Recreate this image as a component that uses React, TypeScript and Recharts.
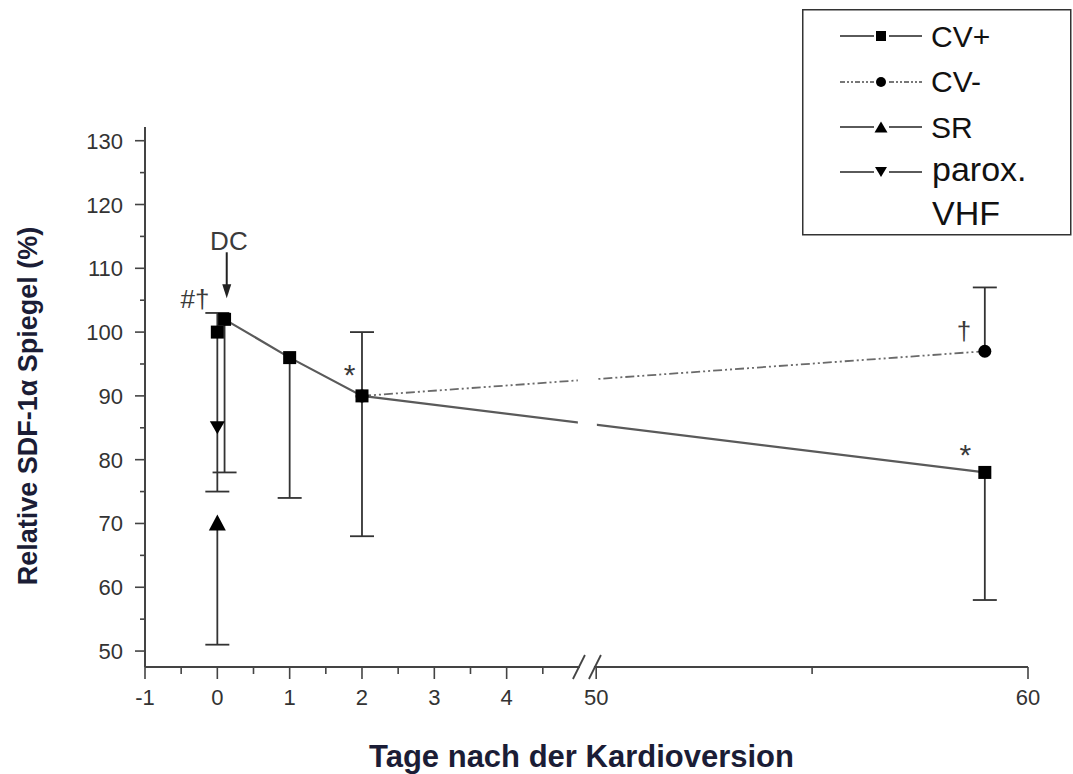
import React from "react";
import {
  ComposedChart,
  Line,
  Scatter,
  XAxis,
  YAxis,
  Label,
  Legend,
  ReferenceLine,
  ReferenceDot,
} from "recharts";

// Tage nach der Kardioversion (x) und relativer SDF-1a Spiegel in % (y)
const cvPlusDays = [0.1, 1, 2, 59];
const cvPlusValues = [102, 96, 90, 78];
const cvMinusDays = [2, 59];
const cvMinusValues = [90, 97];
const baseDays = [0];
const baseValues = [100];
const srDays = [0];
const srValues = [70];
const paroxDays = [0];
const paroxValues = [85];

// Fehlerbalken: Tag, Mittelwert, unteres / oberes Ende (null = nicht gezeichnet)
const errDays = [0, 0.1, 1, 2, 59, 59, 0];
const errMeans = [100, 102, 96, 90, 78, 97, 70];
const errLow: (number | null)[] = [75, 78, 74, 68, 58, null, 51];
const errHigh: (number | null)[] = [103, null, null, 100, null, 107, null];

// Achsen
const xMajorDays = [-1, 0, 1, 2, 3, 4, 50, 60];
const xMinorDays = [-0.5, 0.5, 1.5, 2.5, 3.5, 4.5, 55];
const yMajor = [50, 60, 70, 80, 90, 100, 110, 120, 130];
const yMinor = [55, 65, 75, 85, 95, 105, 115, 125];

// Beschriftungen im Diagramm
const noteDays = [0.16, -0.31, 1.83, 58.52, 58.55];
const noteValues = [114.4, 105.3, 94.4, 99.8, 81.8];
const noteTexts = ["DC", "#\u2020", "*", "\u2020", "*"];

const legendNames = ["CV+", "CV-", "SR", "parox. VHF"];

// unterbrochene x-Achse: 0..5 Tage linear, danach 50..60 gestaucht
const SEG_END = 5;
const RIGHT_START = 50;
const RIGHT_OFFSET = 5.238;
const RIGHT_SCALE = 0.597;
const toAxis = (d: number) =>
  d <= SEG_END ? d : RIGHT_OFFSET + (d - RIGHT_START) * RIGHT_SCALE;
const BREAK_AT = 5.11;

const pts = (days: number[], vals: number[]) =>
  days.map((d, i) => ({ x: toAxis(d), y: vals[i] }));

const FONT = "'Liberation Sans', Arial, Helvetica, sans-serif";
const LINE_GRAY = "#5a5a5a";
const BAR = "#333";

const Square = ({ cx, cy, s = 13 }: any) => (
  <rect x={cx - s / 2} y={cy - s / 2} width={s} height={s} fill="#000" />
);
const Dot = ({ cx, cy, r = 6.5 }: any) => <circle cx={cx} cy={cy} r={r} fill="#000" />;
const TriUp = ({ cx, cy, w = 17, h = 16 }: any) => (
  <polygon
    points={`${cx},${cy - h / 2 - 1} ${cx - w / 2},${cy + h / 2 - 1} ${cx + w / 2},${cy + h / 2 - 1}`}
    fill="#000"
  />
);
const TriDown = ({ cx, cy, w = 15, h = 13 }: any) => (
  <polygon
    points={`${cx - w / 2},${cy - h / 2} ${cx + w / 2},${cy - h / 2} ${cx},${cy + h / 2}`}
    fill="#000"
  />
);

const xTickList = [
  ...xMajorDays.map((d) => ({ d, major: true })),
  ...xMinorDays.map((d) => ({ d, major: false })),
];
const xTickValues = xTickList.map((t) => toAxis(t.d));

const XTick = (props: any) => {
  const { x, y, payload } = props;
  const t = xTickList.find((k) => Math.abs(toAxis(k.d) - payload.value) < 1e-6);
  if (!t) return null;
  return (
    <g>
      <line x1={x} y1={y} x2={x} y2={y + (t.major ? 12 : 7)} stroke="#444" strokeWidth={1.6} />
      {t.major && (
        <text x={x} y={y + 38} textAnchor="middle" fontFamily={FONT} fontSize={22} fill="#333">
          {t.d}
        </text>
      )}
    </g>
  );
};

const yTickValues = [...yMajor, ...yMinor];
const YTick = (props: any) => {
  const { x, y, payload } = props;
  const major = yMajor.includes(payload.value);
  return (
    <g>
      <line x1={x - (major ? 10 : 5)} y1={y} x2={x} y2={y} stroke="#444" strokeWidth={1.6} />
      {major && (
        <text x={x - 22} y={y + 8} textAnchor="end" fontFamily={FONT} fontSize={22} fill="#333">
          {payload.value}
        </text>
      )}
    </g>
  );
};

const noteShape = (text: string) => (props: any) => {
  const { cx, cy } = props;
  const big = text === "*";
  const dy = text === "*" ? 0.57 : text === "\u2020" ? 0.27 : 0.36;
  const size = big ? 30 : 26;
  return (
    <text
      x={cx}
      y={cy + dy * size}
      textAnchor="middle"
      fontFamily={FONT}
      fontSize={size}
      fill="#3a3a3a"
    >
      {text}
    </text>
  );
};

const capShape = (props: any) => {
  const { cx, cy } = props;
  return <line x1={cx - 12} y1={cy} x2={cx + 12} y2={cy} stroke={BAR} strokeWidth={1.8} />;
};

// Achsenbruch: zwei Schraegstriche, Luecke in der Achse
const breakShape = (props: any) => {
  const { cx, cy } = props;
  return (
    <g>
      <rect x={cx - 7} y={cy - 3} width={14} height={6} fill="#fff" />
      <line x1={cx - 14} y1={cy + 12} x2={cx - 2} y2={cy - 12} stroke="#444" strokeWidth={1.8} />
      <line x1={cx + 2} y1={cy + 12} x2={cx + 14} y2={cy - 12} stroke="#444" strokeWidth={1.8} />
    </g>
  );
};

// Luecke in den Verbindungslinien an der Bruchstelle
const gapShape = (props: any) => {
  const { cx, cy } = props;
  return <rect x={cx - 9.5} y={cy - 26} width={19} height={52} fill="#fff" />;
};

const arrowShape = (props: any) => {
  const { cx, cy } = props;
  return (
    <g>
      <line x1={cx} y1={cy - 46} x2={cx} y2={cy - 6} stroke="#222" strokeWidth={2} />
      <polygon points={`${cx - 4.5},${cy - 14} ${cx + 4.5},${cy - 14} ${cx},${cy}`} fill="#222" />
    </g>
  );
};

const renderLegend = () => {
  const rows = [
    { y: 27, base: 38, marker: "square", dash: undefined as string | undefined },
    { y: 73, base: 83, marker: "dot", dash: "5 2 2 2 2 2" },
    { y: 118, base: 129, marker: "up", dash: undefined },
    { y: 163, base: 172, marker: "down", dash: undefined },
  ];
  return (
    <svg width={270} height={227} style={{ display: "block", overflow: "visible" }}>
      <rect x={0.75} y={0.75} width={268} height={225} fill="#fff" stroke="#333" strokeWidth={1.5} />
      {rows.map((r, i) => {
        const stroke = r.dash ? "#777" : LINE_GRAY;
        const name = legendNames[i];
        const parts = name.split(" ");
        return (
          <g key={name}>
            <line x1={38} y1={r.y} x2={72} y2={r.y} stroke={stroke} strokeWidth={2} strokeDasharray={r.dash} />
            <line x1={87} y1={r.y} x2={120} y2={r.y} stroke={stroke} strokeWidth={2} strokeDasharray={r.dash} />
            {r.marker === "square" && <Square cx={79} cy={r.y} s={10} />}
            {r.marker === "dot" && <Dot cx={79} cy={r.y} r={5} />}
            {r.marker === "up" && <TriUp cx={79} cy={r.y + 1} w={13} h={11} />}
            {r.marker === "down" && <TriDown cx={79} cy={r.y} w={12} h={10} />}
            {parts.length === 1 ? (
              <text x={129} y={r.base} fontFamily={FONT} fontSize={30} fill="#111">
                {name}
              </text>
            ) : (
              <text x={130} y={r.base} fontFamily={FONT} fontSize={34} fill="#111">
                <tspan x={130}>{parts[0]}</tspan>
                <tspan x={130} dy={44}>
                  {parts[1]}
                </tspan>
              </text>
            )}
          </g>
        );
      })}
    </svg>
  );
};

export default function App() {
  const cvPlus = pts(cvPlusDays, cvPlusValues);
  const cvMinus = pts(cvMinusDays, cvMinusValues);
  const base = pts(baseDays, baseValues);
  const sr = pts(srDays, srValues);
  const parox = pts(paroxDays, paroxValues);

  return (
    <div style={{ position: "fixed", left: 0, top: 0, width: 1073, height: 774, background: "#fff" }}>
      <ComposedChart width={1073} height={774} margin={{ top: 127, right: 45, bottom: 0, left: 0 }}>
        <XAxis
          type="number"
          dataKey="x"
          domain={[-1, toAxis(60)]}
          ticks={xTickValues}
          interval={0}
          tick={<XTick />}
          tickLine={false}
          tickSize={0}
          tickMargin={0}
          height={107}
          axisLine={{ stroke: "#444", strokeWidth: 2 }}
          allowDataOverflow
        >
          <Label
            content={(p: any) => {
              const vb = p.viewBox;
              return (
                <text
                  x={vb.x + vb.width / 2 - 5}
                  y={vb.y + 100}
                  textAnchor="middle"
                  fontFamily={FONT}
                  fontWeight="bold"
                  fontSize={31}
                  fill="#1b1d36"
                >
                  Tage nach der Kardioversion
                </text>
              );
            }}
          />
        </XAxis>
        <YAxis
          type="number"
          dataKey="y"
          domain={[47.5, 132.15]}
          ticks={yTickValues}
          interval={0}
          tick={<YTick />}
          tickLine={false}
          tickSize={0}
          tickMargin={0}
          width={145}
          axisLine={{ stroke: "#444", strokeWidth: 2 }}
          allowDataOverflow
        >
          <Label
            content={(p: any) => {
              const vb = p.viewBox;
              const cx = vb.x + 37;
              const cy = vb.y + vb.height / 2 + 9;
              return (
                <text
                  x={cx}
                  y={cy}
                  transform={`rotate(-90, ${cx}, ${cy})`}
                  textAnchor="middle"
                  fontFamily={FONT}
                  fontWeight="bold"
                  fontSize={27}
                  fill="#1b1d36"
                >
                  Relative SDF-1α Spiegel (%)
                </text>
              );
            }}
          />
        </YAxis>

        {errDays.map((d, i) => {
          const lo = errLow[i] ?? errMeans[i];
          const hi = errHigh[i] ?? errMeans[i];
          return (
            <ReferenceLine
              key={`eb-${i}`}
              segment={[
                { x: toAxis(d), y: lo },
                { x: toAxis(d), y: hi },
              ]}
              stroke={BAR}
              strokeWidth={1.8}
              ifOverflow="visible"
            />
          );
        })}
        {errDays.map((d, i) =>
          errLow[i] != null ? (
            <ReferenceDot key={`cl-${i}`} x={toAxis(d)} y={errLow[i] as number} shape={capShape} ifOverflow="visible" />
          ) : null
        )}
        {errDays.map((d, i) =>
          errHigh[i] != null ? (
            <ReferenceDot key={`ch-${i}`} x={toAxis(d)} y={errHigh[i] as number} shape={capShape} ifOverflow="visible" />
          ) : null
        )}

        <Line
          data={cvMinus}
          dataKey="y"
          name="CV-"
          type="linear"
          stroke="#6a6a6a"
          strokeWidth={1.8}
          strokeDasharray="9 3 2 3 2 3"
          dot={(p: any) => <Dot key={`cm-${p.index}`} cx={p.cx} cy={p.cy} />}
          activeDot={false}
          isAnimationActive={false}
        />
        <Line
          data={cvPlus}
          dataKey="y"
          name="CV+"
          type="linear"
          stroke={LINE_GRAY}
          strokeWidth={2.2}
          dot={(p: any) => <Square key={`cp-${p.index}`} cx={p.cx} cy={p.cy} />}
          activeDot={false}
          isAnimationActive={false}
        />
        <Scatter data={base} dataKey="y" name="CV+ Tag 0" shape={(p: any) => <Square cx={p.cx} cy={p.cy} />} isAnimationActive={false} />
        <Scatter data={sr} dataKey="y" name="SR" shape={(p: any) => <TriUp cx={p.cx} cy={p.cy} />} isAnimationActive={false} />
        <Scatter data={parox} dataKey="y" name="parox. VHF" shape={(p: any) => <TriDown cx={p.cx} cy={p.cy} />} isAnimationActive={false} />

        <ReferenceDot x={5.116} y={89} shape={gapShape} ifOverflow="visible" />
        <ReferenceDot x={BREAK_AT} y={47.5} shape={breakShape} ifOverflow="visible" />
        <ReferenceDot x={toAxis(0.13)} y={105.3} shape={arrowShape} ifOverflow="visible" />
        {noteDays.map((d, i) => (
          <ReferenceDot
            key={`n-${i}`}
            x={toAxis(d)}
            y={noteValues[i]}
            shape={noteShape(noteTexts[i])}
            ifOverflow="visible"
          />
        ))}

        <Legend
          layout="vertical"
          align="center"
          verticalAlign="middle"
          content={renderLegend}
          wrapperStyle={{ left: 802, top: 9, width: 270, height: 227 }}
        />
      </ComposedChart>
    </div>
  );
}
